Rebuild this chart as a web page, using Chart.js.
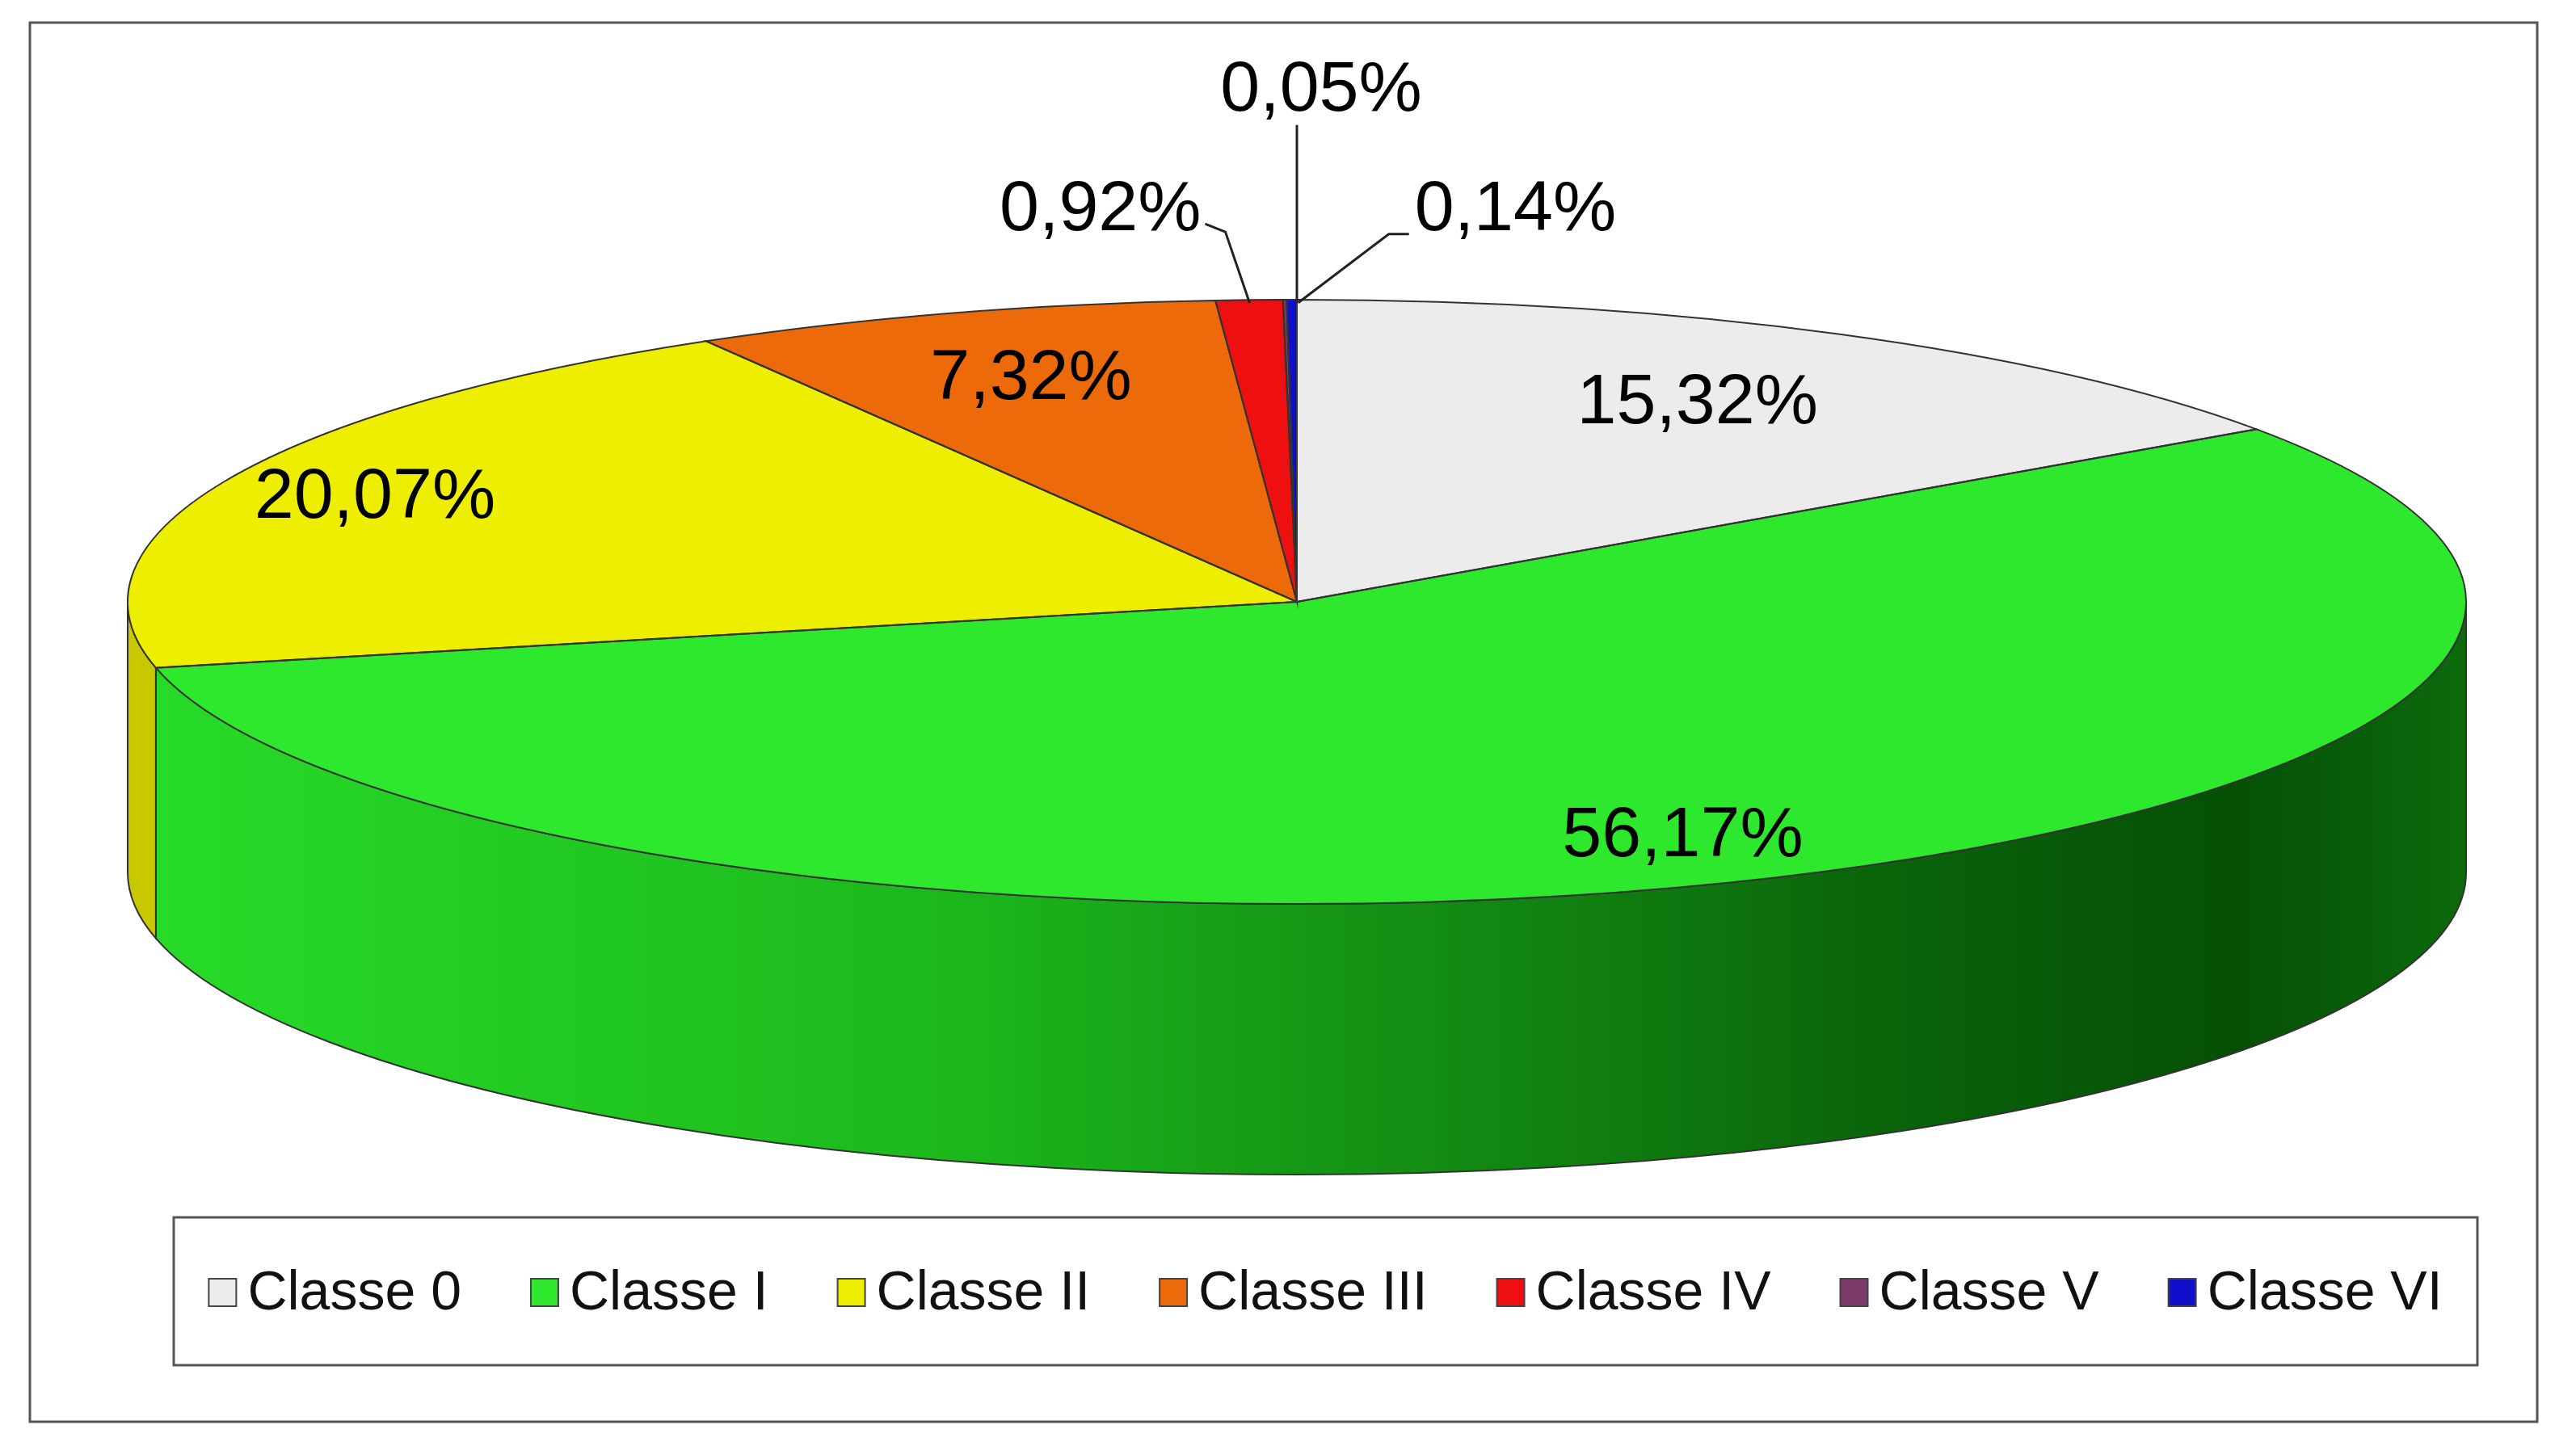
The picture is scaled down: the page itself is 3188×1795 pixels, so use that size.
<!DOCTYPE html>
<html><head><meta charset="utf-8">
<script src="https://cdn.jsdelivr.net/npm/chart.js@4"></script>
<style>html,body{margin:0;padding:0;background:#fff}#c{display:block}</style>
</head><body>
<canvas id="c" width="3188" height="1795"></canvas>
<script>
const labels = ['Classe 0','Classe I','Classe II','Classe III','Classe IV','Classe V','Classe VI'];
const values = [15.32, 56.17, 20.07, 7.32, 0.92, 0.05, 0.14];
const valueText = ['15,32%','56,17%','20,07%','7,32%','0,92%','0,05%','0,14%'];
const colors = ['#ececec','#2ee82e','#eeee00','#ec6a0a','#ee1010','#7a3a6a','#1010cc'];
const sideColors = ['#c8c8c8','#22cc22','#c8c800','#c05008','#b00000','#5a2a4a','#0a0a99'];

const CX = 1605, CY = 745, RX = 1447, RY = 374, DEPTH = 335, R0 = 380;
const FONT = '"Liberation Sans", Arial, sans-serif';

function arcs(chart){ return chart.getDatasetMeta(0).data; }

const pie3d = {
  id:'pie3d',
  beforeDraw(chart){
    const ctx = chart.ctx;
    ctx.save();
    ctx.fillStyle='#fff'; ctx.fillRect(0,0,chart.width,chart.height);
    ctx.strokeStyle='#555'; ctx.lineWidth=3;
    ctx.strokeRect(37,28,3103,1732);
    ctx.restore();
  },
  beforeDatasetsDraw(chart){
    const ctx = chart.ctx;
    arcs(chart).forEach((a,i)=>{
      let s=a.startAngle, e=a.endAngle;
      const segs=[[0,Math.PI],[2*Math.PI,3*Math.PI]];
      segs.forEach(([lo,hi])=>{
        const ss=Math.max(s,lo), ee=Math.min(e,hi);
        if(ee<=ss) return;
        ctx.save();
        ctx.beginPath();
        ctx.ellipse(CX,CY,RX,RY,0,ss,ee,false);
        ctx.ellipse(CX,CY+DEPTH,RX,RY,0,ee,ss,true);
        ctx.closePath();
        if(i===1){
          const g=ctx.createLinearGradient(CX-RX,0,CX+RX,0);
          g.addColorStop(0,'#28dc28'); g.addColorStop(0.35,'#1cb81c');
          g.addColorStop(0.75,'#0a640a'); g.addColorStop(0.9,'#055005'); g.addColorStop(1,'#0c6a0c');
          ctx.fillStyle=g;
        } else ctx.fillStyle=sideColors[i];
        ctx.fill();
        ctx.strokeStyle='#333'; ctx.lineWidth=2; ctx.stroke();
        ctx.restore();
      });
    });
    ctx.save();
    ctx.translate(CX,CY); ctx.scale(RX/R0, RY/R0); ctx.translate(-CX,-CY);
  },
  afterDatasetsDraw(chart){
    const ctx = chart.ctx;
    ctx.restore();
    ctx.save();
    ctx.strokeStyle='#333'; ctx.lineWidth=2;
    arcs(chart).forEach(a=>{
      ctx.beginPath();
      ctx.moveTo(CX,CY);
      ctx.ellipse(CX,CY,RX,RY,0,a.startAngle,a.endAngle,false);
      ctx.closePath(); ctx.stroke();
    });
    ctx.fillStyle='#000'; ctx.font='88px '+FONT; ctx.textBaseline='middle'; ctx.textAlign='center';
    const fr=[0.74,0.82,0.86,0.77];
    arcs(chart).forEach((a,i)=>{
      const m=(a.startAngle+a.endAngle)/2;
      if(i<4){
        ctx.fillText(valueText[i], CX+fr[i]*RX*Math.cos(m), CY+fr[i]*RY*Math.sin(m)+(i===1?10:0));
      } else {
        const px=CX+RX*Math.cos(m)*0.99, py=CY+RY*Math.sin(m)*0.99;
        ctx.beginPath(); ctx.lineWidth=3; ctx.strokeStyle='#222';
        if(i===4){
          ctx.moveTo(px,py); ctx.lineTo(px-30,py-88); ctx.lineTo(px-55,py-98); ctx.stroke();
          ctx.textAlign='right'; ctx.fillText(valueText[i], px-60, py-114);
        } else if(i===5){
          ctx.moveTo(CX,py); ctx.lineTo(CX,py-220); ctx.stroke();
          ctx.textAlign='center'; ctx.fillText(valueText[i], CX+30, py-262);
        } else {
          ctx.moveTo(px+8,py); ctx.lineTo(px+120,py-85); ctx.lineTo(px+145,py-85); ctx.stroke();
          ctx.textAlign='left'; ctx.fillText(valueText[i], px+152, py-114);
        }
      }
    });
    ctx.restore();
  },
  afterDraw(chart){
    const ctx=chart.ctx;
    ctx.save();
    ctx.strokeStyle='#555'; ctx.lineWidth=3;
    ctx.strokeRect(215,1507,2851,183);
    ctx.font='68px '+FONT; ctx.textBaseline='middle'; ctx.textAlign='left';
    const sq=34, g1=14, g2=86;
    let total=0; const w=labels.map(l=>ctx.measureText(l).width);
    w.forEach(x=>total+=sq+g1+x); total+=g2*(labels.length-1);
    let x=215+2851/2-total/2; const y=1600;
    labels.forEach((l,i)=>{
      ctx.fillStyle=colors[i]; ctx.fillRect(x,y-sq/2,sq,sq);
      ctx.strokeStyle='#444'; ctx.lineWidth=2; ctx.strokeRect(x,y-sq/2,sq,sq);
      ctx.fillStyle='#111'; ctx.fillText(l,x+sq+g1,y+2);
      x+=sq+g1+w[i]+g2;
    });
    ctx.restore();
  }
};

new Chart(document.getElementById('c'),{
  type:'pie',
  data:{labels, datasets:[{data:values, backgroundColor:colors, borderWidth:0}]},
  options:{
    responsive:false, animation:false, devicePixelRatio:1,
    rotation:0,
    layout:{padding:{left:CX-R0, right:3188-CX-R0, top:CY-R0, bottom:1795-CY-R0}},
    plugins:{legend:{display:false}, tooltip:{enabled:false}}
  },
  plugins:[pie3d]
});
</script>
</body></html>
